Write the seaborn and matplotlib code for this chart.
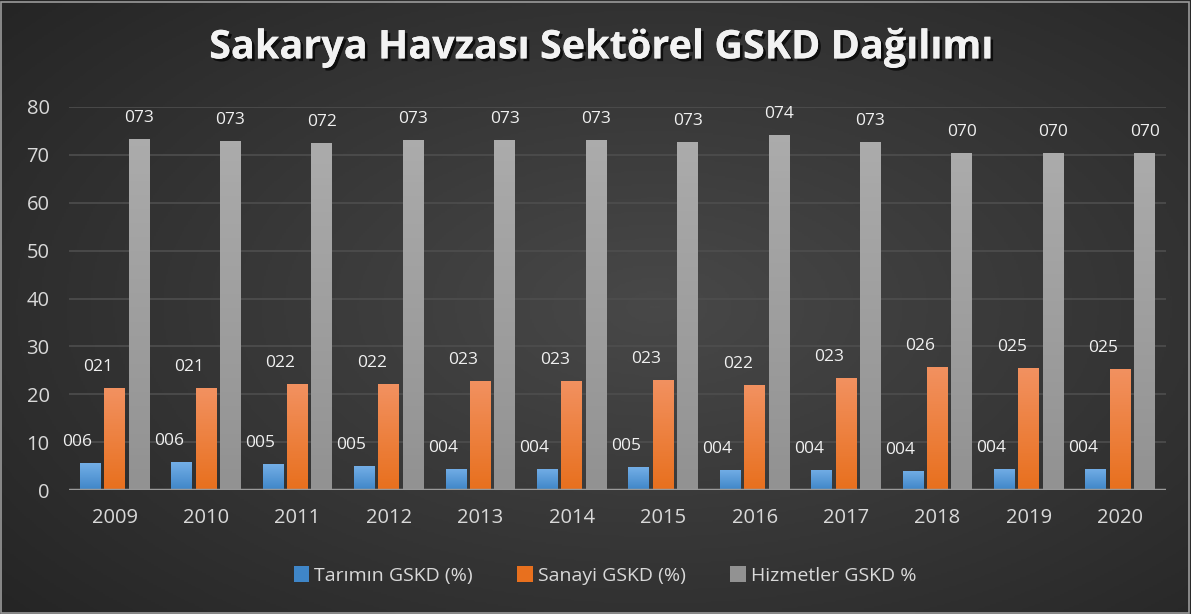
import seaborn as sns
import matplotlib.pyplot as plt
import matplotlib.patheffects as pe
from matplotlib.patches import Rectangle, Patch
import pandas as pd
import numpy as np

years = ['2009', '2010', '2011', '2012', '2013', '2014',
         '2015', '2016', '2017', '2018', '2019', '2020']
tarim = [5.6, 5.8, 5.4, 5.0, 4.4, 4.4, 4.7, 4.2, 4.2, 4.0, 4.4, 4.4]
sanayi = [21.3, 21.3, 22.1, 22.1, 22.8, 22.8, 23.0, 21.9, 23.4, 25.7, 25.4, 25.3]
hizmet = [73.3, 72.9, 72.4, 73.1, 73.1, 73.1, 72.7, 74.1, 72.7, 70.4, 70.3, 70.3]
series = ['Tarımın GSKD (%)', 'Sanayi GSKD (%)', 'Hizmetler GSKD %']

df = pd.DataFrame({
    'Yil': years * 3,
    'Deger': tarim + sanayi + hizmet,
    'Sektor': [series[0]] * 12 + [series[1]] * 12 + [series[2]] * 12,
})

# top / bottom colours of each bar gradient
grad = {
    series[0]: ('#73aee6', '#3f86c8'),
    series[1]: ('#f29160', '#e8701e'),
    series[2]: ('#ababab', '#929292'),
}
lbl_dx = [-13, -17, 0]

sns.set_style('dark')
plt.rcParams['font.family'] = ['Open Sans', 'DejaVu Sans']

fig = plt.figure(figsize=(11.91, 6.14), dpi=100)

# dark radial background
bg = fig.add_axes([0, 0, 1, 1], zorder=-5)
yy, xx = np.mgrid[0:1:300j, 0:1:600j]
r = np.sqrt(((xx - 0.55) / 0.75) ** 2 + ((yy - 0.5) / 0.8) ** 2)
bg.imshow(np.clip(1 - r, 0, 1), cmap=sns.blend_palette(['#252525', '#484848'], as_cmap=True),
          extent=[0, 1, 0, 1], aspect='auto', origin='lower')
bg.set_axis_off()
fig.add_artist(Rectangle((0.001, 0.002), 0.997, 0.995, transform=fig.transFigure,
                         fill=False, edgecolor='#9a9a9a', lw=1.2))

ax = fig.add_axes([69 / 1191, 1 - 490 / 614, 1097 / 1191, 383 / 614])
ax.patch.set_alpha(0)
sns.barplot(data=df, x='Yil', y='Deger', hue='Sektor', hue_order=series,
            gap=0.14, width=0.8, legend=False, ax=ax, saturation=1)

ax.set_ylim(0, 80)
ax.set_xlim(-0.5, 11.5)
ax.set_yticks(range(0, 81, 10))
ax.grid(axis='y', color='#4e4e4e', lw=1.2)
ax.grid(axis='x', visible=False)
for s in ax.spines.values():
    s.set_visible(False)
ax.axhline(0, color='#9a9a9a', lw=2.5, zorder=3)
ax.set_xlabel('')
ax.set_ylabel('')
ax.tick_params(axis='both', colors='#d9d9d9', labelsize=14.5, length=0)
ax.tick_params(axis='x', pad=13)
ax.tick_params(axis='y', pad=14)

for i, cont in enumerate(ax.containers):
    top, bot = grad[series[i]]
    cmap = sns.blend_palette([bot, top], as_cmap=True)
    for bar in cont:
        x0, w, h = bar.get_x(), bar.get_width(), bar.get_height()
        bar.set_facecolor('none')
        bar.set_edgecolor('none')
        img = ax.imshow(np.linspace(0, 1, 50).reshape(-1, 1), cmap=cmap,
                        extent=[x0, x0 + w, 0, h], origin='lower',
                        aspect='auto', zorder=2)
        img.set_clip_path(bar)
        ax.annotate(f'{h:03.0f}', (x0 + w / 2, h), xytext=(lbl_dx[i], 21),
                    textcoords='offset pixels', ha='center', va='center',
                    color='#f0f0f0', fontsize=12.5, annotation_clip=False)

ax.set_ylim(0, 80)
ax.set_xlim(-0.5, 11.5)

fig.text(0.505, 0.922, 'Sakarya Havzası Sektörel GSKD Dağılımı', ha='center', va='center',
         color='#f2f2f2', fontsize=28.5, fontweight='bold',
         path_effects=[pe.withSimplePatchShadow(offset=(2, -2), shadow_rgbFace='black', alpha=0.7),
                       pe.Normal()])

handles = [Patch(facecolor=grad[s][1], edgecolor='none') for s in series]
leg = fig.legend(handles, series, loc='center', bbox_to_anchor=(0.508, 0.063), ncol=3,
                 frameon=False, fontsize=14, handlelength=0.8, handleheight=0.9,
                 handletextpad=0.25, columnspacing=2.3)
for t in leg.get_texts():
    t.set_color('#d9d9d9')

fig.savefig('out.png', dpi=100)
